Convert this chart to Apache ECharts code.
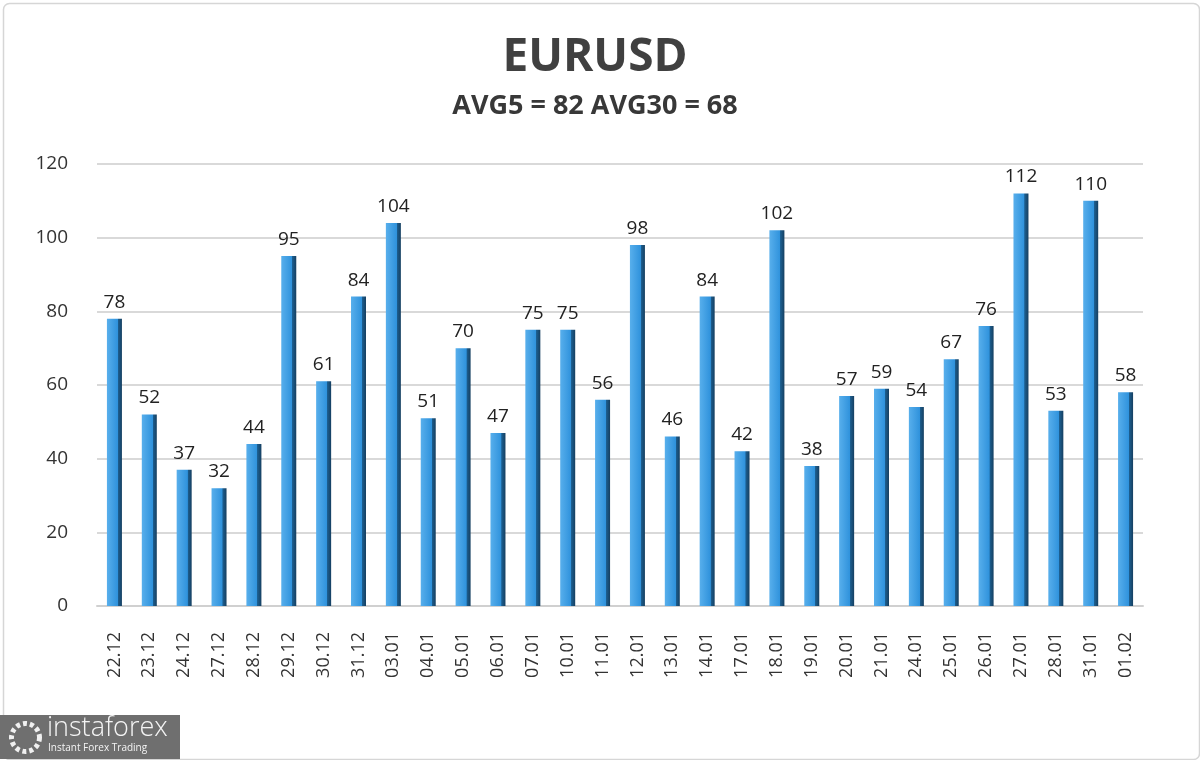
<!DOCTYPE html>
<html>
<head>
<meta charset="utf-8">
<script src="https://cdn.jsdelivr.net/npm/echarts@6/dist/echarts.min.js"></script>
<style>
  html, body { margin: 0; padding: 0; background: #fff; }
  #main { width: 1200px; height: 760px; }
</style>
</head>
<body>
<div id="main"></div>
<script>
// dates on the x axis
const days = ['22.12','23.12','24.12','27.12','28.12','29.12','30.12','31.12','03.01','04.01',
  '05.01','06.01','07.01','10.01','11.01','12.01','13.01','14.01','17.01','18.01',
  '19.01','20.01','21.01','24.01','25.01','26.01','27.01','28.01','31.01','01.02'];
// daily range in points
const ranges = [78,52,37,32,44,95,61,84,104,51,70,47,75,75,56,98,46,84,42,102,
  38,57,59,54,67,76,112,53,110,58];
const yTicks = [0,20,40,60,80,100,120];

const chart = echarts.init(document.getElementById('main'));

const barColor = new echarts.graphic.LinearGradient(0, 0, 1, 0, [
  { offset: 0, color: '#58afec' },
  { offset: 0.72, color: '#2f92dc' },
  { offset: 0.74, color: '#1c5f91' },
  { offset: 1, color: '#163f60' }
]);

const option = {
  backgroundColor: '#fff',
  animation: false,
  title: [
    {
      text: 'EURUSD', left: 590, top: 30, textAlign: 'center',
      textStyle: { fontFamily: 'Open Sans', fontSize: 46, fontWeight: 'bold', color: '#404040' }
    },
    {
      text: 'AVG5 = 82 AVG30 = 68', left: 590, top: 88, textAlign: 'center',
      textStyle: { fontFamily: 'Open Sans', fontSize: 27, fontWeight: 'bold', color: '#383838' }
    }
  ],
  grid: { left: 97, right: 57, top: 164, bottom: 154 },
  xAxis: {
    type: 'category',
    data: days,
    axisLine: { show: true, lineStyle: { color: '#d0d0d0', width: 2 } },
    axisTick: { show: false },
    axisLabel: {
      rotate: 90, margin: 26, fontFamily: 'Open Sans', fontSize: 18, color: '#333'
    }
  },
  yAxis: {
    type: 'value',
    min: 0, max: yTicks[yTicks.length - 1], interval: 20,
    axisLine: { show: false },
    axisTick: { show: false },
    axisLabel: {
      margin: 29, fontFamily: 'Open Sans', fontSize: 19, color: '#333',
      padding: [8, 0, 0, 0]
    },
    splitLine: { lineStyle: { color: '#d9d9d9', width: 2 } }
  },
  series: [{
    type: 'bar',
    data: ranges,
    barWidth: 15,
    itemStyle: { color: barColor },
    label: {
      show: true, position: 'top', distance: 7,
      fontFamily: 'Open Sans', fontSize: 19, color: '#222'
    }
  }],
  graphic: [
    {
      type: 'rect', left: 1, top: 1,
      shape: { width: 1196, height: 756, r: 6 },
      style: { fill: 'none', stroke: '#d6d6d6', lineWidth: 1.5 }, z: -1
    },
    {
      type: 'rect', left: 0, top: 715,
      shape: { width: 180, height: 44 },
      style: { fill: '#6f6f6f' }
    },
    {
      type: 'circle', left: 9, top: 721,
      shape: { r: 14 },
      style: { fill: 'none', stroke: '#f0f0f0', lineWidth: 5, lineDash: [4, 3] }
    },
    {
      type: 'text', left: 47, top: 715,
      style: { text: 'instaforex', fill: '#f4f4f4', font: '300 27px "Open Sans"' }
    },
    {
      type: 'text', left: 48, top: 743,
      style: { text: 'Instant Forex Trading', fill: '#f4f4f4', font: '10px "Open Sans"' }
    }
  ]
};

chart.setOption(option);
</script>
</body>
</html>
